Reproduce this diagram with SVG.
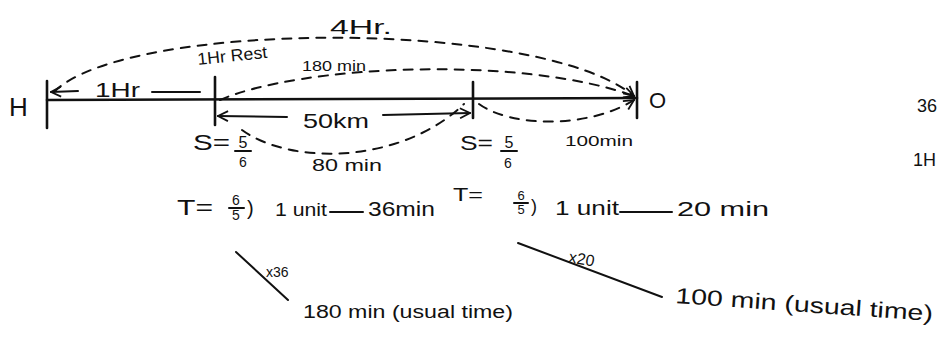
<svg xmlns="http://www.w3.org/2000/svg" width="938" height="338" viewBox="0 0 938 338">
<style>
text{font-family:"Liberation Sans","DejaVu Sans",sans-serif;fill:#111}
.solid{stroke:#111;stroke-width:2.6;fill:none;stroke-linecap:round}
.thin{stroke:#111;stroke-width:2;fill:none;stroke-linecap:round}
.dash{stroke:#111;stroke-width:2;fill:none;stroke-dasharray:9 8;stroke-linecap:round}
</style>
<defs>
<marker id="arr" viewBox="0 0 12 12" refX="11" refY="6" markerWidth="12" markerHeight="12" markerUnits="userSpaceOnUse" orient="auto">
<path d="M1,1 L11,6 L1,11" fill="none" stroke="#111" stroke-width="1.8"/>
</marker>
</defs>
<rect width="938" height="338" fill="#fff"/>

<g id="connectors">
<line class="solid" x1="47" y1="100" x2="637" y2="98"/>
<path class="dash" d="M54,92 C125,20 540,18 634,96" marker-end="url(#arr)"/>
<path class="dash" d="M220,100 C300,65 520,55 634,96" marker-end="url(#arr)"/>
<path class="dash" d="M242,130 C290,165 400,165 464,104"/>
<path class="dash" d="M479,104 C512,128 590,128 634,100" marker-end="url(#arr)"/>
<line class="thin" x1="200" y1="92" x2="152" y2="92"/>
<line class="thin" x1="78" y1="91" x2="51" y2="92" marker-end="url(#arr)"/>
<line class="thin" x1="287" y1="117" x2="218" y2="116" marker-end="url(#arr)"/>
<line class="thin" x1="383" y1="115" x2="470" y2="113" marker-end="url(#arr)"/>
<line class="thin" x1="330" y1="212" x2="363" y2="212"/>
<line class="thin" x1="620" y1="212" x2="672" y2="212"/>
<line class="thin" x1="236" y1="252" x2="288" y2="300"/>
<line class="thin" x1="518" y1="243" x2="662" y2="297"/>
</g>

<g id="H">
<line class="solid" x1="47" y1="81" x2="47" y2="128"/>
<text x="9" y="116" font-size="26">H</text>
</g>

<g id="stop1">
<line class="solid" x1="215" y1="77" x2="215" y2="125"/>
<text x="198" y="65" font-size="17" textLength="70" lengthAdjust="spacingAndGlyphs" transform="rotate(-6 198 65)">1Hr Rest</text>
<text x="193" y="150" font-size="22" textLength="37" lengthAdjust="spacingAndGlyphs">S=</text>
<text x="243" y="148" font-size="16" text-anchor="middle">5</text>
<line class="thin" x1="235" y1="151" x2="251" y2="151"/>
<text x="243" y="167" font-size="14" text-anchor="middle">6</text>
</g>

<g id="stop2">
<line class="solid" x1="473" y1="82" x2="473" y2="118"/>
<text x="460" y="150" font-size="21" textLength="33" lengthAdjust="spacingAndGlyphs">S=</text>
<text x="509" y="148" font-size="16" text-anchor="middle">5</text>
<line class="thin" x1="501" y1="151" x2="517" y2="151"/>
<text x="508" y="168" font-size="14" text-anchor="middle">6</text>
</g>

<g id="O">
<line class="solid" x1="637" y1="82" x2="637" y2="118"/>
<text x="649" y="108" font-size="22">O</text>
</g>

<g id="labels">
<text x="330" y="34" font-size="21" textLength="62" lengthAdjust="spacingAndGlyphs">4Hr.</text>
<text x="95" y="97" font-size="20" textLength="45" lengthAdjust="spacingAndGlyphs">1Hr</text>
<text x="302" y="71" font-size="14" textLength="64" lengthAdjust="spacingAndGlyphs">180 min</text>
<text x="303" y="128" font-size="21" textLength="66" lengthAdjust="spacingAndGlyphs">50km</text>
<text x="312" y="171" font-size="17" textLength="70" lengthAdjust="spacingAndGlyphs">80 min</text>
<text x="565" y="146" font-size="15" textLength="68" lengthAdjust="spacingAndGlyphs">100min</text>
</g>

<g id="calc1">
<text x="177" y="215" font-size="22" textLength="36" lengthAdjust="spacingAndGlyphs">T=</text>
<text x="236" y="205" font-size="14" text-anchor="middle">6</text>
<line class="thin" x1="229" y1="208" x2="244" y2="208"/>
<text x="236" y="220" font-size="14" text-anchor="middle">5</text>
<text x="247" y="215" font-size="20">)</text>
<text x="275" y="216" font-size="19" textLength="52" lengthAdjust="spacingAndGlyphs">1 unit</text>
<text x="368" y="216" font-size="20" textLength="67" lengthAdjust="spacingAndGlyphs">36min</text>
<text x="266" y="277" font-size="14">x36</text>
<text x="303" y="318" font-size="18" textLength="210" lengthAdjust="spacingAndGlyphs">180 min (usual time)</text>
</g>

<g id="calc2">
<text x="453" y="201" font-size="18" textLength="30" lengthAdjust="spacingAndGlyphs">T=</text>
<text x="521" y="200" font-size="13" text-anchor="middle">6</text>
<line class="thin" x1="514" y1="203" x2="528" y2="203"/>
<text x="521" y="214" font-size="13" text-anchor="middle">5</text>
<text x="531" y="212" font-size="18">)</text>
<text x="555" y="215" font-size="20" textLength="64" lengthAdjust="spacingAndGlyphs">1 unit</text>
<text x="677" y="216" font-size="20" textLength="92" lengthAdjust="spacingAndGlyphs">20 min</text>
<text x="568" y="262" font-size="16" transform="rotate(10 568 262)">x20</text>
<text x="675" y="303" font-size="22" textLength="258" lengthAdjust="spacingAndGlyphs" transform="rotate(4 675 303)">100 min (usual time)</text>
</g>

<g id="edge">
<text x="917" y="112" font-size="18">36</text>
<text x="913" y="166" font-size="18">1H</text>
</g>
</svg>
